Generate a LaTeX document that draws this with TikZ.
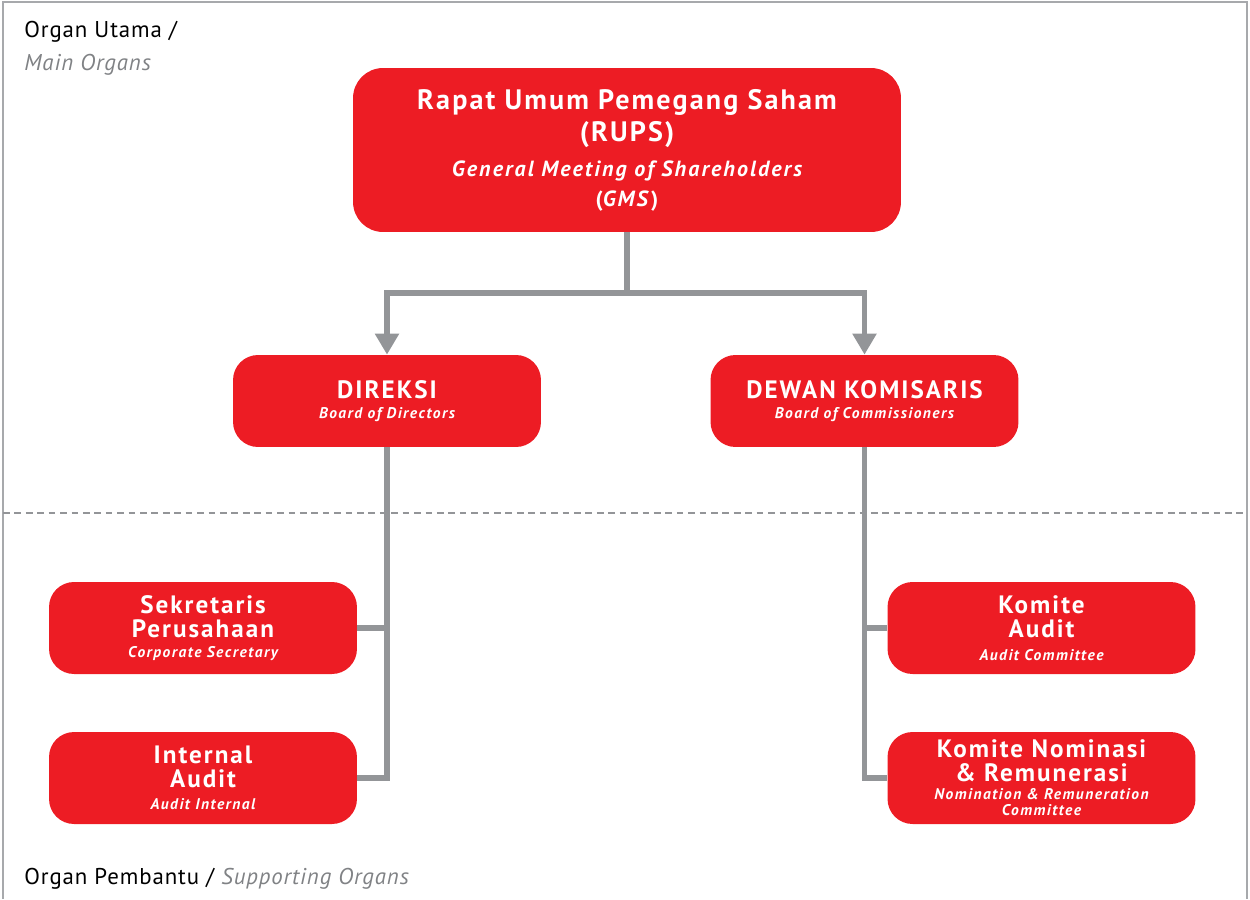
\documentclass[tikz,border=0pt]{standalone}
\usepackage{fontspec}
\setmainfont[LetterSpace=4]{PT Sans}
\newfontfamily\organfont[LetterSpace=8]{PT Sans}
\newfontfamily\headfont[LetterSpace=7.5]{PT Sans}
\newfontfamily\subfont[LetterSpace=9.5]{PT Sans}
\usetikzlibrary{positioning, arrows.meta}

\definecolor{organRed}{HTML}{ED1C24}
\definecolor{linkGray}{HTML}{939598}
\definecolor{labelGray}{HTML}{808285}
\definecolor{frameGray}{HTML}{A7A9AC}

\newcommand{\organname}{\organfont\fontsize{14.3}{16}\selectfont\bfseries}
\newcommand{\organsub}{\subfont\fontsize{8.8}{10}\selectfont\bfseries\itshape}

\begin{document}
\begin{tikzpicture}[
    x=0.02cm, y=-0.02cm,
    organ/.style={rectangle, fill=organRed, rounded corners=0.5cm,
                  minimum width=6.16cm, minimum height=1.84cm, inner sep=0pt,
                  text=white, align=center, font=\fontsize{9}{13.6}\selectfont},
    bigorgan/.style={organ, rounded corners=0.6cm, minimum width=10.96cm,
                     minimum height=3.28cm, font=\fontsize{12}{17}\selectfont},
    link/.style={draw=linkGray, line width=3.2pt},
    arrowlink/.style={link, -{Triangle[width=0.46cm, length=0.42cm]}},
    sectionlabel/.style={anchor=base west, inner sep=0pt, font=\fontsize{13}{15}\selectfont}
]
    \useasboundingbox (0,0) rectangle (1250,899);

    % Frame and divider
    \draw[frameGray, line width=0.8pt] (3,899) -- (3,2) -- (1247,2) -- (1247,899);
    \draw[linkGray, line width=1.5pt, dash pattern=on 3.8pt off 2.7pt] (3,513) -- (1247,513);

    % Section labels
    \node[sectionlabel] (utama) at (24,37) {Organ Utama /};
    \node[sectionlabel, text=labelGray, font=\fontsize{13}{15}\selectfont\itshape] (utamaen) at (24,70) {Main Organs};
    \node[sectionlabel] (pembantu) at (24,884) {Organ Pembantu / \textcolor{labelGray}{\itshape Supporting Organs}};

    % Main organs
    \node[bigorgan] (rups) at (627,150)
        {{\headfont\fontsize{16}{18}\selectfont\bfseries Rapat Umum Pemegang Saham}\\[1.4pt]
         {\headfont\fontsize{16}{18}\selectfont\bfseries (RUPS)}\\[2.8pt]
         {\subfont\fontsize{12.5}{17}\selectfont\bfseries\itshape General Meeting of Shareholders}\\
         {\subfont\fontsize{12.5}{17}\selectfont\bfseries (\textit{GMS})}};
    \node[organ] (direksi) at (387,401)
        {{\organname DIREKSI}\\[-2.3pt]{\organsub Board of Directors}};
    \node[organ] (dekom) at (864.5,401)
        {{\organname DEWAN KOMISARIS}\\[-2.3pt]{\organsub Board of Commissioners}};

    % Supporting organs
    \node[organ] (sekper) at (203,628)
        {{\organname Sekretaris}\\{\organname Perusahaan}\\[-1.9pt]{\organsub Corporate Secretary}};
    \node[organ] (audint) at (203,778)
        {{\organname Internal}\\{\organname Audit}\\[-1pt]{\organsub Audit Internal}};
    \node[organ] (komaudit) at (1041.5,628)
        {{\organname Komite}\\{\organname Audit}\\[-0.5pt]{\organsub Audit Committee}};
    \node[organ] (komnr) at (1041.5,778)
        {{\organname Komite Nominasi}\\{\organname \& Remunerasi}\\[-3.2pt]%
         {\organsub Nomination \& Remuneration}\\[-4.5pt]{\organsub Committee}};

    % Connectors
    \coordinate (split) at (627,293);
    \draw[link] (rups.south) -- (split);
    \draw[arrowlink] (split) -| (direksi.north);
    \draw[arrowlink] (split) -| (dekom.north);

    \draw[link] (direksi.south) |- (audint.east);
    \draw[link] (sekper.east) -- (sekper.east -| direksi.south);
    \draw[link] (dekom.south) |- (komnr.west);
    \draw[link] (komaudit.west) -- (komaudit.west -| dekom.south);
\end{tikzpicture}
\end{document}
